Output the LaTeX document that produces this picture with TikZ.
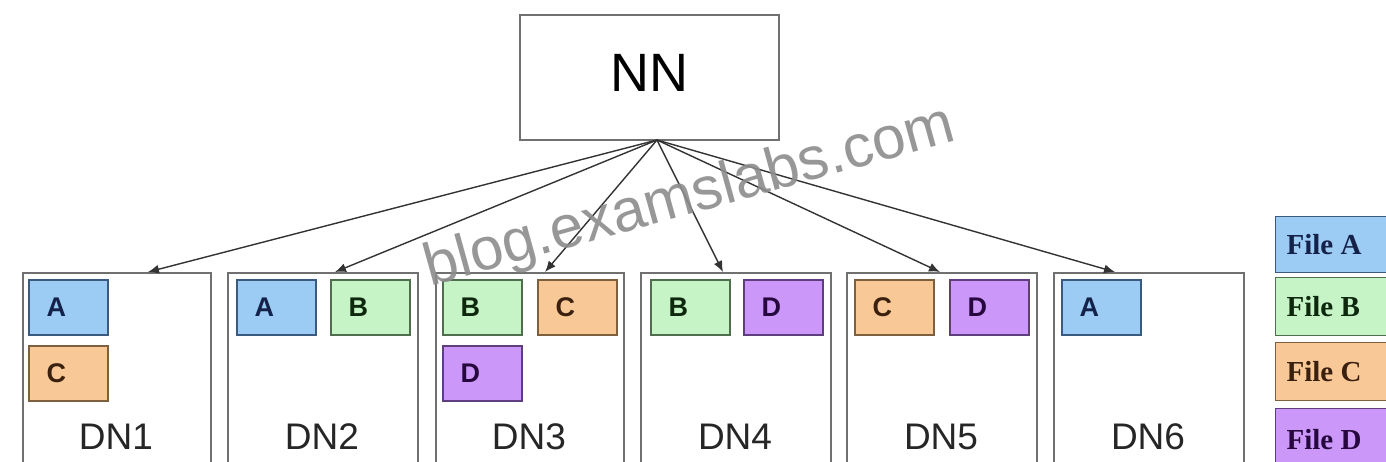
\documentclass[tikz,border=0pt]{standalone}
\usepackage{fontspec}
\setmainfont{Liberation Sans}
\newfontfamily\legfont{Liberation Serif}
\usetikzlibrary{arrows.meta,calc}
\definecolor{fillA}{HTML}{9CCBF4}
\definecolor{lineA}{HTML}{3A5A80}
\definecolor{textA}{HTML}{14224A}
\definecolor{fillB}{HTML}{C6F4C6}
\definecolor{lineB}{HTML}{4E6E4E}
\definecolor{textB}{HTML}{0E280E}
\definecolor{fillC}{HTML}{F9C897}
\definecolor{lineC}{HTML}{7E603E}
\definecolor{textC}{HTML}{3A200E}
\definecolor{fillD}{HTML}{CB98FA}
\definecolor{lineD}{HTML}{5E3E7E}
\definecolor{textD}{HTML}{26083E}
\definecolor{boxgray}{HTML}{707070}
\begin{document}
\begin{tikzpicture}[x=1pt,y=-1pt,
  nnbox/.style={draw=boxgray,line width=1.6pt,fill=white,minimum width=259pt,minimum height=125pt,anchor=north west,inner sep=0pt,font=\fontsize{54}{54}\selectfont},
  dnbox/.style={draw=boxgray,line width=2.4pt,fill=white,minimum height=210pt,anchor=north west,inner sep=0pt},
  dnlabel/.style={font=\fontsize{37}{37}\selectfont,text=black!85},
  fbox/.style={line width=1.6pt,minimum width=79pt,minimum height=55pt,anchor=north west,inner sep=0pt},
  ftext/.style={font=\bfseries\fontsize{27}{27}\selectfont,anchor=west},
  fA/.style={fbox,draw=lineA,fill=fillA},
  fB/.style={fbox,draw=lineB,fill=fillB},
  fC/.style={fbox,draw=lineC,fill=fillC},
  fD/.style={fbox,draw=lineD,fill=fillD},
  leg/.style={line width=1.2pt,minimum width=130pt,anchor=north west,inner sep=0pt},
  legtext/.style={font=\legfont\bfseries\fontsize{29}{29}\selectfont,anchor=west},
  arr/.style={draw=black!80,line width=1.4pt,-{Latex[length=11pt,width=9pt]}}
]
\useasboundingbox (0,0) rectangle (1386,462);
\clip (0,0) rectangle (1386,462);
\fill[white] (0,0) rectangle (1386,462);

% Name node
\node[nnbox] (nn) at (519,14) {};
\node at ($(nn.center)+(0,-4)$) (nntext) {\fontsize{54}{54}\selectfont NN};
\coordinate (apex) at (657,140);

% Data nodes
\node[dnbox,minimum width=188pt] (dn1) at (22,272) {};
\node[dnbox,minimum width=190pt] (dn2) at (227,272) {};
\node[dnbox,minimum width=188pt] (dn3) at (435,272) {};
\node[dnbox,minimum width=190pt] (dn4) at (640,272) {};
\node[dnbox,minimum width=190pt] (dn5) at (846,272) {};
\node[dnbox,minimum width=190pt] (dn6) at (1053,272) {};

\node[dnlabel] (l1) at (116,437) {DN1};
\node[dnlabel] (l2) at (322,437) {DN2};
\node[dnlabel] (l3) at (529,437) {DN3};
\node[dnlabel] (l4) at (735,437) {DN4};
\node[dnlabel] (l5) at (941,437) {DN5};
\node[dnlabel] (l6) at (1148,437) {DN6};

% arrows
\draw[arr] (apex) -- ([xshift=126pt]dn1.north west);
\draw[arr] (apex) -- ([xshift=108pt]dn2.north west);
\draw[arr] (apex) -- ([xshift=110pt]dn3.north west);
\draw[arr] (apex) -- ([xshift=83pt]dn4.north west);
\draw[arr] (apex) -- ([xshift=94pt]dn5.north west);
\draw[arr] (apex) -- ([xshift=62pt]dn6.north west);

% file blocks
\node[fA] (d1a) at (28,279) {};  \node[ftext,text=textA] at ([xshift=15pt]d1a.west) {A};
\node[fC] (d1c) at (28,345) {};  \node[ftext,text=textC] at ([xshift=15pt]d1c.west) {C};
\node[fA] (d2a) at (236,279) {}; \node[ftext,text=textA] at ([xshift=15pt]d2a.west) {A};
\node[fB] (d2b) at (330,279) {}; \node[ftext,text=textB] at ([xshift=15pt]d2b.west) {B};
\node[fB] (d3b) at (442,279) {}; \node[ftext,text=textB] at ([xshift=15pt]d3b.west) {B};
\node[fC] (d3c) at (537,279) {}; \node[ftext,text=textC] at ([xshift=15pt]d3c.west) {C};
\node[fD] (d3d) at (442,345) {}; \node[ftext,text=textD] at ([xshift=15pt]d3d.west) {D};
\node[fB] (d4b) at (650,279) {}; \node[ftext,text=textB] at ([xshift=15pt]d4b.west) {B};
\node[fD] (d4d) at (743,279) {}; \node[ftext,text=textD] at ([xshift=15pt]d4d.west) {D};
\node[fC] (d5c) at (854,279) {}; \node[ftext,text=textC] at ([xshift=15pt]d5c.west) {C};
\node[fD] (d5d) at (949,279) {}; \node[ftext,text=textD] at ([xshift=15pt]d5d.west) {D};
\node[fA] (d6a) at (1061,279) {}; \node[ftext,text=textA] at ([xshift=15pt]d6a.west) {A};

% legend
\node[leg,draw=lineA,fill=fillA,minimum height=56pt] (la) at (1275,216) {};
\node[legtext,text=textA] at ([xshift=8pt]la.west) {File A};
\node[leg,draw=lineB,fill=fillB,minimum height=58pt] (lb) at (1275,277) {};
\node[legtext,text=textB] at ([xshift=8pt]lb.west) {File B};
\node[leg,draw=lineC,fill=fillC,minimum height=58pt] (lc) at (1275,342) {};
\node[legtext,text=textC] at ([xshift=8pt]lc.west) {File C};
\node[leg,draw=lineD,fill=fillD,minimum height=62pt] (ld) at (1275,408) {};
\node[legtext,text=textD] at ([xshift=8pt]ld.west) {File D};

% watermark
\node[text=black!45,opacity=0.9,rotate=15.5,font=\fontsize{60}{60}\selectfont] (wm) at (690,198) {blog.examslabs.com};
\end{tikzpicture}
\end{document}
